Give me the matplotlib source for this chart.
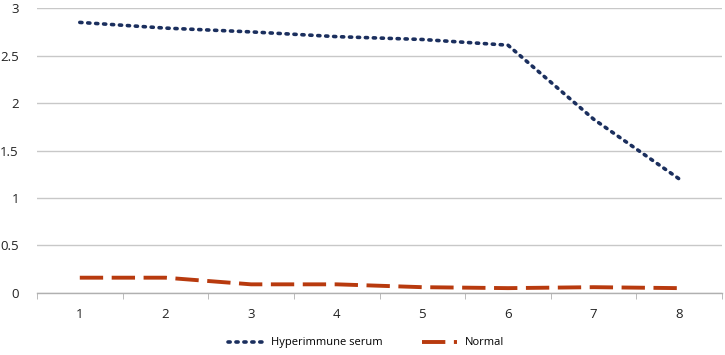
import matplotlib
matplotlib.use("Agg")
import matplotlib.pyplot as plt
from matplotlib.ticker import FixedLocator

x_labels = [1, 2, 3, 4, 5, 6, 7, 8]
hyperimmune = [2.85, 2.79, 2.75, 2.70, 2.67, 2.61, 1.83, 1.20]
normal = [0.16, 0.16, 0.09, 0.09, 0.06, 0.05, 0.06, 0.05]
y_ticks = [0, 0.5, 1, 1.5, 2, 2.5, 3]
y_tick_labels = ["0", "0.5", "1", "1.5", "2", "2.5", "3"]

plt.rcParams['font.family'] = ['Open Sans', 'DejaVu Sans']

fig = plt.figure(figsize=(7.25, 3.55), dpi=100)
ax = fig.add_axes([0.051, 0.175, 0.945, 0.802])

ax.plot(x_labels, hyperimmune, color="#1b2f5e", linestyle=(0, (0.6, 1.6)),
        linewidth=2.6, dash_capstyle="round", label="Hyperimmune serum", zorder=3)
ax.plot(x_labels, normal, color="#b83a0e", linestyle=(0, (6, 2.2)),
        linewidth=2.8, label="Normal", zorder=3)

ax.set_xlim(0.5, 8.5)
ax.set_ylim(0, 3)
ax.set_yticks(y_ticks)
ax.set_yticklabels(y_tick_labels)
ax.set_xticks(x_labels)
ax.set_xticklabels([str(v) for v in x_labels])
ax.xaxis.set_minor_locator(FixedLocator([v + 0.5 for v in range(0, 9)]))
ax.tick_params(axis="x", which="major", length=0, pad=11, labelsize=9.5, colors="#222222")
ax.tick_params(axis="x", which="minor", length=4, color="#b0b0b0", direction="out")
ax.tick_params(axis="y", length=0, pad=13, labelsize=9.5, colors="#222222")

ax.grid(axis="y", color="#c8c8c8", linewidth=1.0)
ax.set_axisbelow(True)
for s in ["top", "right", "left"]:
    ax.spines[s].set_visible(False)
ax.spines["bottom"].set_color("#b0b0b0")
ax.spines["bottom"].set_linewidth(1.0)

leg = fig.legend(loc="center", bbox_to_anchor=(0.505, 0.034), ncol=2, frameon=False,
                 fontsize=8, handlelength=3.2, columnspacing=3.5, handletextpad=0.7,
                 borderaxespad=0, borderpad=0)

fig.savefig("out.png", dpi=100)
